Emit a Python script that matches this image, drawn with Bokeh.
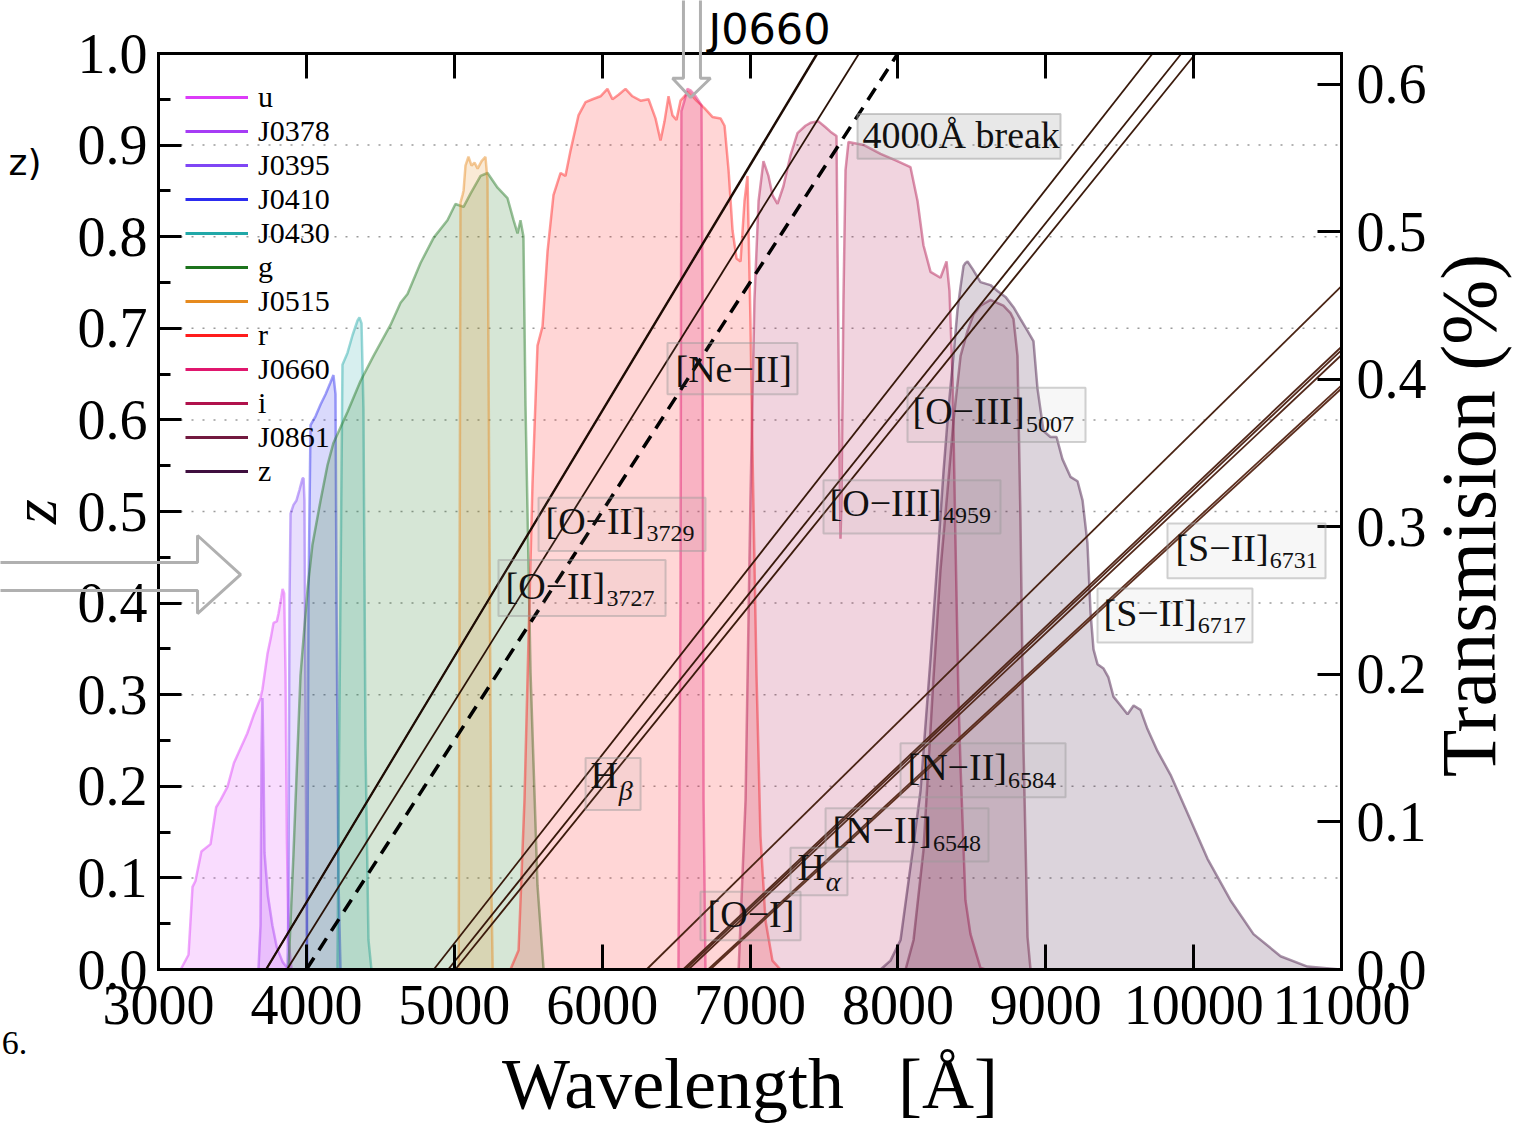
import math
from bokeh.plotting import figure
from bokeh.models import (ColumnDataSource, Range1d, LinearAxis, FixedTicker,
                          PrintfTickFormatter, Label, BoxAnnotation, PolyAnnotation,
                          Legend, LegendItem)
from bokeh.embed import file_html
from bokeh.resources import INLINE

# ---------------------------------------------------------------------------
# Filter transmission curves: wavelength [Å] and transmission
# ---------------------------------------------------------------------------
u_wl = [3150, 3203, 3230, 3250, 3290, 3352, 3390, 3420, 3467, 3510, 3555, 3600,
        3642, 3690, 3703, 3737, 3760, 3778, 3800, 3811, 3830, 3839, 3850, 3859,
        3868, 3879, 3900]
u_tr = [0.0, 0.010, 0.056, 0.060, 0.080, 0.085, 0.110, 0.115, 0.124, 0.140, 0.150,
        0.160, 0.172, 0.184, 0.190, 0.214, 0.225, 0.235, 0.236, 0.241, 0.252, 0.258,
        0.255, 0.200, 0.090, 0.020, 0.0]

J0378_wl = [3676, 3690, 3697, 3703, 3710, 3717, 3740, 3770, 3800, 3840, 3880]
J0378_tr = [0.0, 0.030, 0.150, 0.184, 0.140, 0.079, 0.050, 0.030, 0.015, 0.005, 0.0]

J0395_wl = [3872, 3879, 3886, 3893, 3913, 3933, 3953, 3974, 3981, 3987, 3994, 4001, 4008]
J0395_tr = [0.0, 0.047, 0.250, 0.309, 0.315, 0.318, 0.325, 0.333, 0.333, 0.318, 0.182,
            0.047, 0.0]

J0410_wl = [4001, 4008, 4014, 4028, 4062, 4096, 4130, 4163, 4183, 4197, 4204, 4217, 4231]
J0410_tr = [0.0, 0.080, 0.250, 0.369, 0.375, 0.383, 0.390, 0.398, 0.403, 0.390, 0.250,
            0.060, 0.0]

J0430_wl = [4210, 4224, 4244, 4278, 4312, 4346, 4359, 4373, 4386, 4400, 4420, 4440]
J0430_tr = [0.0, 0.180, 0.410, 0.418, 0.430, 0.440, 0.442, 0.438, 0.380, 0.150, 0.020, 0.0]

g_wl = [3879, 3913, 3960, 4008, 4041, 4096, 4143, 4183, 4278, 4366, 4454, 4569, 4637,
        4684, 4772, 4860, 4954, 5008, 5063, 5110, 5178, 5225, 5293, 5360, 5401, 5428,
        5448, 5468, 5482, 5516, 5563, 5604]
g_tr = [0.0, 0.079, 0.199, 0.258, 0.288, 0.318, 0.342, 0.357, 0.378, 0.399, 0.416,
        0.437, 0.452, 0.458, 0.479, 0.496, 0.508, 0.519, 0.517, 0.526, 0.538, 0.540,
        0.530, 0.523, 0.508, 0.499, 0.508, 0.497, 0.382, 0.201, 0.057, 0.0]

J0515_wl = [5030, 5036, 5042, 5056, 5063, 5076, 5096, 5117, 5137, 5158, 5185, 5211,
            5225, 5238, 5252, 5260]
J0515_tr = [0.0, 0.250, 0.520, 0.525, 0.528, 0.545, 0.551, 0.545, 0.547, 0.543, 0.548,
            0.551, 0.535, 0.300, 0.050, 0.0]

r_wl = [5380, 5435, 5475, 5502, 5529, 5563, 5597, 5631, 5671, 5719, 5752, 5786, 5840,
        5888, 5935, 5989, 6036, 6070, 6111, 6158, 6205, 6260, 6314, 6361, 6395, 6422,
        6449, 6476, 6503, 6530, 6584, 6638, 6692, 6746, 6801, 6828, 6855, 6882, 6909,
        6936, 6963, 6983, 7003, 7017, 7044, 7071, 7105, 7152, 7206]
r_tr = [0.0, 0.013, 0.115, 0.223, 0.329, 0.423, 0.436, 0.487, 0.525, 0.540, 0.538,
        0.555, 0.579, 0.588, 0.590, 0.592, 0.597, 0.590, 0.593, 0.597, 0.592, 0.589,
        0.590, 0.577, 0.562, 0.575, 0.592, 0.579, 0.576, 0.589, 0.595, 0.589, 0.584,
        0.578, 0.577, 0.572, 0.542, 0.501, 0.482, 0.480, 0.521, 0.538, 0.440, 0.350,
        0.200, 0.090, 0.033, 0.006, 0.0]

J0660_wl = [6516, 6530, 6536, 6557, 6577, 6598, 6625, 6652, 6672, 6679, 6686, 6699]
J0660_tr = [0.0, 0.250, 0.582, 0.589, 0.597, 0.596, 0.593, 0.589, 0.586, 0.454, 0.115, 0.0]

i_wl = [6923, 6970, 7003, 7030, 7058, 7091, 7125, 7152, 7186, 7226, 7274, 7321, 7375,
        7409, 7463, 7511, 7544, 7585, 7592, 7605, 7612, 7619, 7632, 7646, 7666, 7768,
        7883, 7997, 8085, 8133, 8173, 8221, 8288, 8329, 8349, 8370, 8390, 8410, 8424,
        8457, 8491, 8559, 8593]
i_tr = [0.0, 0.115, 0.318, 0.454, 0.521, 0.548, 0.538, 0.525, 0.519, 0.531, 0.552,
        0.567, 0.572, 0.574, 0.575, 0.571, 0.568, 0.565, 0.488, 0.352, 0.292, 0.319,
        0.454, 0.542, 0.561, 0.559, 0.553, 0.548, 0.544, 0.521, 0.491, 0.473, 0.469,
        0.480, 0.460, 0.401, 0.288, 0.183, 0.137, 0.047, 0.024, 0.001, 0.0]

J0861_wl = [8052, 8106, 8173, 8241, 8288, 8336, 8376, 8424, 8471, 8511, 8559, 8626,
            8714, 8762, 8782, 8809, 8829, 8850, 8877, 8897]
J0861_tr = [0.0, 0.020, 0.081, 0.198, 0.271, 0.325, 0.372, 0.416, 0.433, 0.444, 0.450,
            0.454, 0.450, 0.445, 0.441, 0.416, 0.305, 0.148, 0.022, 0.0]

z_wl = [7883, 7950, 8018, 8106, 8153, 8221, 8268, 8309, 8342, 8376, 8403, 8424, 8444,
        8457, 8471, 8505, 8559, 8626, 8674, 8728, 8782, 8829, 8877, 8917, 8944, 8985,
        9032, 9073, 9113, 9167, 9215, 9249, 9282, 9303, 9323, 9350, 9391, 9424, 9458,
        9506, 9553, 9594, 9641, 9688, 9756, 9844, 9959, 10094, 10249, 10405, 10588,
        10770, 10993]
z_tr = [0.0, 0.006, 0.020, 0.085, 0.121, 0.211, 0.278, 0.338, 0.380, 0.416, 0.447,
        0.463, 0.477, 0.479, 0.480, 0.475, 0.466, 0.464, 0.460, 0.456, 0.449, 0.441,
        0.433, 0.426, 0.394, 0.365, 0.361, 0.361, 0.346, 0.334, 0.331, 0.318, 0.289,
        0.242, 0.217, 0.207, 0.204, 0.198, 0.185, 0.179, 0.173, 0.179, 0.176, 0.163,
        0.148, 0.132, 0.106, 0.075, 0.047, 0.024, 0.009, 0.002, 0.0]

filter_names = ["u", "J0378", "J0395", "J0410", "J0430", "g", "J0515", "r",
                "J0660", "i", "J0861", "z"]
filter_colors = ["#dc3cf8", "#a63cf5", "#7f46f5", "#2c2cf0", "#21a8a8", "#1c731c",
                 "#e68a1e", "#ff1c1c", "#e0176e", "#b0124c", "#72193f", "#3f0f3f"]
filter_curves = [(u_wl, u_tr), (J0378_wl, J0378_tr), (J0395_wl, J0395_tr),
                 (J0410_wl, J0410_tr), (J0430_wl, J0430_tr), (g_wl, g_tr),
                 (J0515_wl, J0515_tr), (r_wl, r_tr), (J0660_wl, J0660_tr),
                 (i_wl, i_tr), (J0861_wl, J0861_tr), (z_wl, z_tr)]

# ---------------------------------------------------------------------------
# Emission lines (rest-frame wavelength, Å) redshifted over 0 <= z <= 1
# ---------------------------------------------------------------------------
line_rest = [3726.03, 3728.82, 3868.76, 4861.33, 4958.91, 5006.84,
             6300.30, 6548.05, 6562.80, 6583.45, 6716.44, 6730.82]
line_colors = ["#1e0c04", "#1e0c04", "#2a1207", "#38190b", "#38190b", "#3c1b0c",
               "#4a2414", "#52281a", "#52281a", "#52281a", "#5c2e1e", "#5c2e1e"]
break_rest = 4000.0

# Axis ticks
z_ticks = [0.0, 0.1, 0.2, 0.3, 0.4, 0.5, 0.6, 0.7, 0.8, 0.9, 1.0]
z_minor = [0.05, 0.15, 0.25, 0.35, 0.45, 0.55, 0.65, 0.75, 0.85, 0.95]
wl_ticks = [3000, 4000, 5000, 6000, 7000, 8000, 9000, 10000, 11000]
tr_ticks = [0.0, 0.1, 0.2, 0.3, 0.4, 0.5, 0.6]

# Visible plot box and its place on the canvas
X_MIN, X_MAX = 3000.0, 11000.0
Z_LO, Z_HI = 0.0, 1.0
T_HI = 0.621
W, H = 1516, 1129
PAD_L, PAD_R, PAD_T, PAD_B = 158, 175, 53, 160

SERIF = "Liberation Serif"

# The frame fills the whole canvas; the axes sit at fixed positions so that
# texts and pointers around the box are never clipped.
px_x = (W - PAD_L - PAD_R) / (X_MAX - X_MIN)
px_z = (H - PAD_T - PAD_B) / (Z_HI - Z_LO)
px_t = (H - PAD_T - PAD_B) / T_HI

p = figure(width=W, height=H,
           x_range=Range1d(X_MIN - PAD_L / px_x, X_MAX + PAD_R / px_x),
           y_range=Range1d(Z_LO - PAD_B / px_z, Z_HI + PAD_T / px_z),
           output_backend="svg", toolbar_location=None,
           x_axis_location=None, y_axis_location=None,
           min_border=0, background_fill_color="white", border_fill_color="white")
p.extra_y_ranges = {"T": Range1d(-PAD_B / px_t, T_HI + PAD_T / px_t)}
p.outline_line_color = None
p.title.visible = False
p.grid.visible = False


def style_axis(ax, major_in, minor_in=0, label_size="56px", standoff=8):
    ax.axis_line_color = "black"
    ax.axis_line_width = 3
    ax.axis_line_cap = "square"
    ax.major_tick_line_color = "black"
    ax.major_tick_line_width = 3
    ax.major_tick_in = major_in
    ax.major_tick_out = 0
    if minor_in:
        ax.minor_tick_line_color = "black"
        ax.minor_tick_line_width = 3
        ax.minor_tick_in = minor_in
        ax.minor_tick_out = 0
    else:
        ax.minor_tick_line_color = None
    ax.major_label_text_font = SERIF
    ax.major_label_text_font_size = label_size
    ax.major_label_text_color = "black"
    ax.major_label_standoff = standoff


x_bottom = LinearAxis(ticker=FixedTicker(ticks=wl_ticks),
                      formatter=PrintfTickFormatter(format="%d"),
                      fixed_location=Z_LO, bounds=(X_MIN, X_MAX),
                      axis_label="Wavelength\u00a0\u00a0\u00a0[Å]")
style_axis(x_bottom, 25, standoff=16)
x_bottom.axis_label_text_font = SERIF
x_bottom.axis_label_text_font_size = "72px"
x_bottom.axis_label_text_font_style = "normal"
x_bottom.axis_label_text_color = "black"
x_bottom.axis_label_standoff = 17
p.add_layout(x_bottom, "below")

x_top = LinearAxis(ticker=FixedTicker(ticks=wl_ticks), fixed_location=Z_HI,
                   bounds=(X_MIN, X_MAX),
                   major_label_overrides={t: "" for t in wl_ticks})
style_axis(x_top, 25, standoff=0)
p.add_layout(x_top, "above")

y_left = LinearAxis(ticker=FixedTicker(ticks=z_ticks, minor_ticks=z_minor),
                    formatter=PrintfTickFormatter(format="%.1f"),
                    fixed_location=X_MIN, bounds=(Z_LO, Z_HI), axis_label="z")
style_axis(y_left, 23, minor_in=12, standoff=11)
y_left.axis_label_text_font = SERIF
y_left.axis_label_text_font_size = "64px"
y_left.axis_label_text_font_style = "italic"
y_left.axis_label_text_color = "black"
y_left.axis_label_standoff = 5
p.add_layout(y_left, "left")

y_right = LinearAxis(y_range_name="T", ticker=FixedTicker(ticks=tr_ticks),
                     formatter=PrintfTickFormatter(format="%.1f"),
                     fixed_location=X_MAX, bounds=(0.0, T_HI))
style_axis(y_right, 24, standoff=15)
p.add_layout(y_right, "right")

# Dotted horizontal grid inside the box
grid_z = z_ticks[1:-1]
p.segment(x0=[X_MIN] * len(grid_z), x1=[X_MAX] * len(grid_z), y0=grid_z, y1=grid_z,
          line_color="#9a9a9a", line_width=1.5, line_dash="2 9", level="underlay")

# ---------------------------------------------------------------------------
# Filter curves (right axis: transmission)
# ---------------------------------------------------------------------------
legend_items = []
for name, color, (wl, tr) in zip(filter_names, filter_colors, filter_curves):
    src = ColumnDataSource(dict(wl=wl, tr=tr))
    p.varea(x="wl", y1=0, y2="tr", source=src, y_range_name="T",
            fill_color=color, fill_alpha=0.18)
    p.line(x="wl", y="tr", source=src, y_range_name="T",
           line_color=color, line_alpha=0.45, line_width=2.5)
    key = p.line(x=[float("nan")], y=[float("nan")], line_color=color, line_width=3)
    legend_items.append(LegendItem(label=name, renderers=[key]))

# ---------------------------------------------------------------------------
# Redshift tracks of the emission lines and the 4000 Å break
# ---------------------------------------------------------------------------
x_end = [min(w * (1 + Z_HI), X_MAX) for w in line_rest]
track_src = ColumnDataSource(dict(
    x0=[w * (1 + Z_LO) for w in line_rest],
    y0=[Z_LO] * len(line_rest),
    x1=x_end,
    y1=[xe / w - 1 for xe, w in zip(x_end, line_rest)],
    color=line_colors,
))
p.segment(x0="x0", y0="y0", x1="x1", y1="y1", source=track_src,
          line_color="color", line_width=1.8)
p.segment(x0=[break_rest * (1 + Z_LO)], y0=[Z_LO],
          x1=[break_rest * (1 + Z_HI)], y1=[Z_HI],
          line_color="black", line_width=3.5, line_dash="14 9")

# ---------------------------------------------------------------------------
# Line labels in boxes: text, x, z, subscript, sub x, sub z, box
# ---------------------------------------------------------------------------
line_labels = [
    ("[Ne−II]", 6496, 0.656, "", 0, 0, (6442, 7321, 0.628, 0.684)),
    ("[O−III]", 8099, 0.610, "5007", 8867, 0.595, (8065, 9269, 0.576, 0.635)),
    ("[O−III]", 7538, 0.509, "4959", 8306, 0.496, (7497, 8694, 0.476, 0.534)),
    ("[O−II]", 5617, 0.490, "3729", 6300, 0.476, (5570, 6699, 0.457, 0.515)),
    ("[O−II]", 5347, 0.419, "3727", 6030, 0.405, (5299, 6429, 0.386, 0.447)),
    ("H", 5921, 0.212, "β", 6112, 0.195, (5888, 6260, 0.174, 0.231)),
    ("[N−II]", 8065, 0.221, "6584", 8745, 0.206, (8018, 9134, 0.188, 0.247)),
    ("[N−II]", 7558, 0.152, "6548", 8238, 0.138, (7511, 8613, 0.118, 0.176)),
    ("H", 7321, 0.112, "α", 7512, 0.096, (7274, 7659, 0.081, 0.133)),
    ("[O−I]", 6713, 0.061, "", 0, 0, (6665, 7342, 0.032, 0.085)),
    ("[S−II]", 9877, 0.460, "6731", 10514, 0.447, (9823, 10892, 0.427, 0.487)),
    ("[S−II]", 9391, 0.389, "6717", 10028, 0.376, (9350, 10398, 0.357, 0.416)),
]

# 4000 Å break tag
p.add_layout(BoxAnnotation(left=7727, right=9100, bottom=0.885, top=0.934,
                           fill_color="#8a8a8a", fill_alpha=0.2,
                           line_color="#9a9a9a", line_alpha=0.5, line_width=2))
p.add_layout(Label(x=7761, y=0.911, text="4000Å break", text_font=SERIF,
                   text_font_size="38px", text_color="#111111",
                   text_baseline="middle", text_align="left"))

for text, tx, tz, sub, sx, sz, (bl, br, bb, bt) in line_labels:
    p.add_layout(BoxAnnotation(left=bl, right=br, bottom=bb, top=bt,
                               fill_color="#9a9a9a", fill_alpha=0.08,
                               line_color="#9a9a9a", line_alpha=0.45, line_width=2))
    p.add_layout(Label(x=tx, y=tz, text=text, text_font=SERIF,
                       text_font_size="38px", text_color="#111111",
                       text_baseline="middle", text_align="left"))
    if sub:
        greek = sub in ("α", "β")
        p.add_layout(Label(x=sx, y=sz, text=sub, text_font=SERIF,
                           text_font_size="28px" if greek else "24px",
                           text_font_style="italic" if greek else "normal",
                           text_color="#111111",
                           text_baseline="middle", text_align="left"))

# ---------------------------------------------------------------------------
# Outlined pointer arrows towards J0660 and towards the left axis
# ---------------------------------------------------------------------------
arrow_style = dict(fill_alpha=0, line_color="#b0b0b0", line_alpha=1, line_width=3)
p.add_layout(PolyAnnotation(
    xs=[6550, 6550, 6476, 6598, 6733, 6665, 6665],
    ys=[1.075, 0.973, 0.973, 0.952, 0.973, 0.973, 1.075], **arrow_style))
p.add_layout(PolyAnnotation(
    xs=[1870, 3264, 3264, 3555, 3264, 3264, 1870],
    ys=[0.4443, 0.4443, 0.4738, 0.4312, 0.3886, 0.4138, 0.4138], **arrow_style))

# ---------------------------------------------------------------------------
# Right axis title and surrounding texts
# ---------------------------------------------------------------------------
p.add_layout(Label(x=11859, y=0.4956, text="Transmision (%)", angle=math.pi / 2,
                   text_font=SERIF, text_font_size="78px", text_color="black",
                   text_align="center", text_baseline="middle"))
p.add_layout(Label(x=6719, y=1.027, text="J0660", text_font="DejaVu Sans",
                   text_font_size="43px", text_color="black",
                   text_align="left", text_baseline="middle"))
p.add_layout(Label(x=1986, y=0.881, text="z)", text_font="DejaVu Sans",
                   text_font_size="36px", text_color="black",
                   text_align="left", text_baseline="middle"))
p.add_layout(Label(x=1940, y=-0.0797, text="6.", text_font=SERIF,
                   text_font_size="34px", text_color="black",
                   text_align="left", text_baseline="middle"))

# ---------------------------------------------------------------------------
# Legend
# ---------------------------------------------------------------------------
legend = Legend(items=legend_items, location=(185, 641),
                label_text_font=SERIF, label_text_font_size="30px",
                label_text_color="black", label_standoff=10,
                glyph_width=63, glyph_height=30, label_height=30,
                spacing=0, padding=14, margin=0,
                border_line_color=None, background_fill_alpha=0)
p.add_layout(legend)

open("out.html", "w").write(file_html(p, INLINE))
